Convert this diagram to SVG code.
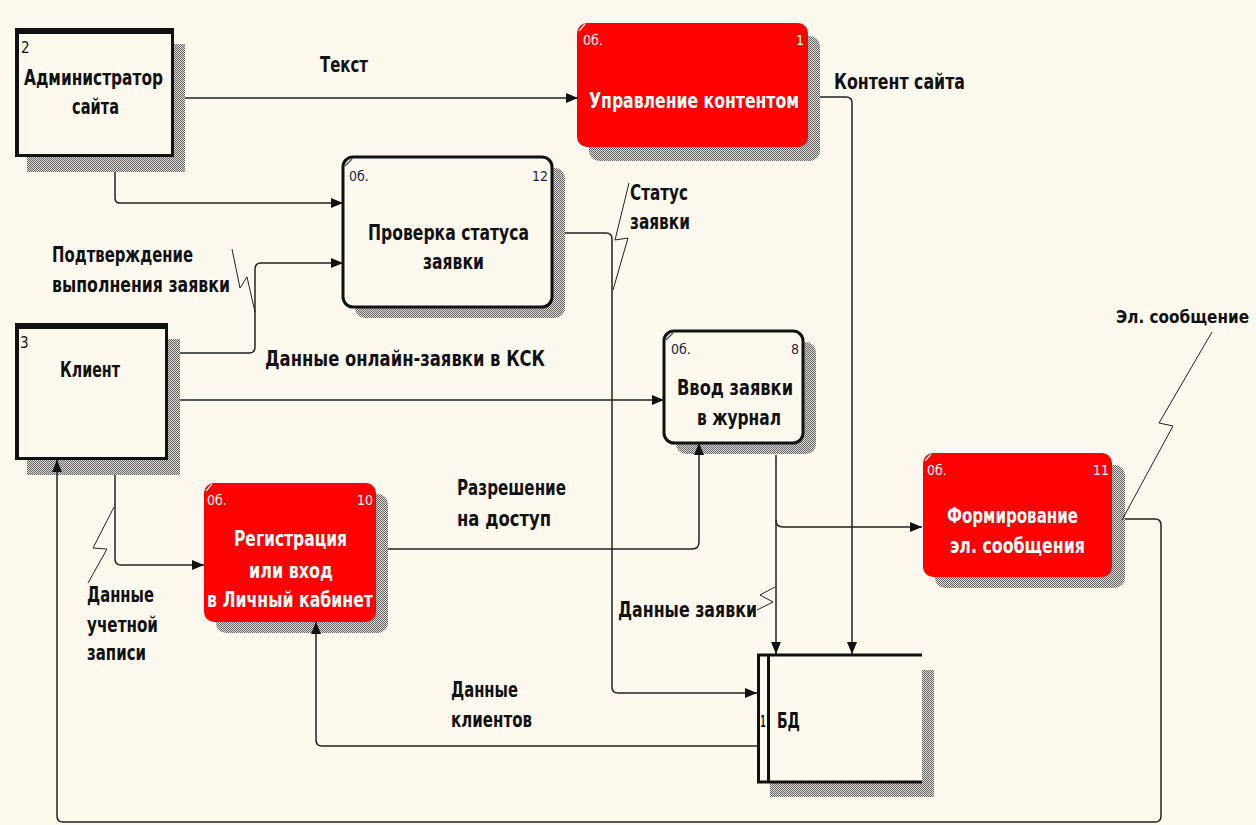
<svg xmlns="http://www.w3.org/2000/svg" width="1256" height="825" viewBox="0 0 1256 825">
<defs>
<pattern id="hatch" width="2" height="2" patternUnits="userSpaceOnUse">
<rect width="2" height="2" fill="#dcd9d2"/>
<rect width="1" height="1" fill="#666"/>
<rect x="1" y="1" width="1" height="1" fill="#666"/>
</pattern>
<marker id="arr" viewBox="0 0 12 10" refX="12" refY="5" markerWidth="12" markerHeight="10" markerUnits="userSpaceOnUse" orient="auto">
<path d="M0,0 L12,5 L0,10 z" fill="#111"/>
</marker>
<style>
.lbl{font-family:"DejaVu Sans Condensed","DejaVu Sans",sans-serif;font-size:21px;font-weight:bold;fill:#111}
.wt{fill:#fff}
.num{font-family:"DejaVu Sans Condensed","DejaVu Sans",sans-serif;font-size:14px;fill:#23234a}
.numw{font-family:"DejaVu Sans Condensed","DejaVu Sans",sans-serif;font-size:14px;fill:#fff}
.conn{fill:none;stroke:#222;stroke-width:1.5}
.lead{fill:none;stroke:#222;stroke-width:1}
.shadow{fill:url(#hatch)}
.wbox{fill:#fdf9ef;stroke:#111;stroke-width:3}
.rbox{fill:#ff0000}
.ent{fill:#fdf9ef;stroke:#111;stroke-width:3}
.mark{stroke:#fff;stroke-width:1.2}
.markd{stroke:#555;stroke-width:1.5}
</style>
</defs>
<rect width="1256" height="825" fill="#fdf9ef"/>

<g id="labels">
<text class="lbl" x="320" y="72" textLength="48" lengthAdjust="spacingAndGlyphs">Текст</text>
<text class="lbl" x="834" y="89" textLength="131" lengthAdjust="spacingAndGlyphs">Контент сайта</text>
<text class="lbl" x="630" y="200" textLength="58" lengthAdjust="spacingAndGlyphs">Статус</text>
<text class="lbl" x="630" y="229" textLength="60" lengthAdjust="spacingAndGlyphs">заявки</text>
<text class="lbl" x="52" y="262" textLength="141" lengthAdjust="spacingAndGlyphs">Подтверждение</text>
<text class="lbl" x="52" y="292" textLength="178" lengthAdjust="spacingAndGlyphs">выполнения заявки</text>
<text class="lbl" x="265" y="366" textLength="280" lengthAdjust="spacingAndGlyphs">Данные онлайн-заявки в КСК</text>
<text class="lbl" x="1116" y="323" textLength="133" lengthAdjust="spacingAndGlyphs" style="font-size:18px">Эл. сообщение</text>
<text class="lbl" x="457" y="495" textLength="109" lengthAdjust="spacingAndGlyphs">Разрешение</text>
<text class="lbl" x="457" y="526" textLength="94" lengthAdjust="spacingAndGlyphs">на доступ</text>
<text class="lbl" x="87" y="602" textLength="67" lengthAdjust="spacingAndGlyphs">Данные</text>
<text class="lbl" x="87" y="632" textLength="71" lengthAdjust="spacingAndGlyphs">учетной</text>
<text class="lbl" x="87" y="660" textLength="59" lengthAdjust="spacingAndGlyphs">записи</text>
<text class="lbl" x="618" y="617" textLength="139" lengthAdjust="spacingAndGlyphs">Данные заявки</text>
<text class="lbl" x="451" y="697" textLength="67" lengthAdjust="spacingAndGlyphs">Данные</text>
<text class="lbl" x="451" y="727" textLength="81" lengthAdjust="spacingAndGlyphs">клиентов</text>
</g>

<g id="entity-2">
<path class="shadow" d="M173,44 H185 V172 H27 V157 H173 Z"/>
<rect class="ent" x="16.5" y="29.5" width="156" height="126"/>
<rect x="15" y="28" width="158" height="6" fill="#111"/>
<rect x="15" y="28" width="4" height="129" fill="#111"/>
<text class="num" x="21" y="53" style="font-size:15px;fill:#111">2</text>
<text class="lbl" x="24" y="85" textLength="139" lengthAdjust="spacingAndGlyphs">Администратор</text>
<text class="lbl" x="72" y="114" textLength="47" lengthAdjust="spacingAndGlyphs">сайта</text>
</g>

<g id="entity-3">
<path class="shadow" d="M168,339 H180 V475 H27 V460 H168 Z"/>
<rect class="ent" x="16.5" y="324.5" width="150" height="134"/>
<rect x="15" y="323" width="153" height="6" fill="#111"/>
<rect x="15" y="323" width="4" height="137" fill="#111"/>
<text class="num" x="20" y="348" style="font-size:15px;fill:#111">3</text>
<text class="lbl" x="60" y="377" textLength="60" lengthAdjust="spacingAndGlyphs">Клиент</text>
</g>

<g id="process-1">
<rect class="shadow" x="589" y="36" width="231" height="125" rx="10"/>
<rect class="rbox" x="577" y="23" width="231" height="124" rx="10"/>
<line class="mark" x1="579" y1="31" x2="585" y2="24"/>
<text class="numw" x="583" y="45">0б.</text>
<text class="numw" x="796" y="45">1</text>
<text class="lbl wt" x="589" y="108" textLength="210" lengthAdjust="spacingAndGlyphs">Управление контентом</text>
</g>

<g id="process-12">
<rect class="shadow" x="355" y="168" width="210" height="150" rx="10"/>
<rect class="wbox" x="343" y="157" width="209" height="150" rx="10"/>
<line class="markd" x1="345" y1="166" x2="352" y2="159"/>
<text class="num" x="349" y="181">0б.</text>
<text class="num" x="532" y="181">12</text>
<text class="lbl" x="368" y="240" textLength="161" lengthAdjust="spacingAndGlyphs">Проверка статуса</text>
<text class="lbl" x="423" y="269" textLength="61" lengthAdjust="spacingAndGlyphs">заявки</text>
</g>

<g id="process-8">
<rect class="shadow" x="676" y="342" width="140" height="112" rx="10"/>
<rect class="wbox" x="664" y="331" width="139" height="112" rx="10"/>
<line class="markd" x1="666" y1="340" x2="673" y2="333"/>
<text class="num" x="671" y="354">0б.</text>
<text class="num" x="791" y="354">8</text>
<text class="lbl" x="677" y="395" textLength="116" lengthAdjust="spacingAndGlyphs">Ввод заявки</text>
<text class="lbl" x="697" y="425" textLength="84" lengthAdjust="spacingAndGlyphs">в журнал</text>
</g>

<g id="process-11">
<rect class="shadow" x="935" y="465" width="190" height="123" rx="10"/>
<rect class="rbox" x="923" y="453" width="189" height="124" rx="10"/>
<line class="mark" x1="925" y1="461" x2="931" y2="454"/>
<text class="numw" x="927" y="475">0б.</text>
<text class="numw" x="1093" y="475">11</text>
<text class="lbl wt" x="947" y="523" textLength="131" lengthAdjust="spacingAndGlyphs">Формирование</text>
<text class="lbl wt" x="950" y="553" textLength="135" lengthAdjust="spacingAndGlyphs">эл. сообщения</text>
</g>

<g id="process-10">
<rect class="shadow" x="216" y="494" width="172" height="139" rx="10"/>
<rect class="rbox" x="204" y="483" width="172" height="139" rx="10"/>
<line class="mark" x1="206" y1="491" x2="212" y2="484"/>
<text class="numw" x="207" y="505">0б.</text>
<text class="numw" x="357" y="505">10</text>
<text class="lbl wt" x="234" y="546" textLength="113" lengthAdjust="spacingAndGlyphs">Регистрация</text>
<text class="lbl wt" x="249" y="578" textLength="84" lengthAdjust="spacingAndGlyphs">или вход</text>
<text class="lbl wt" x="207" y="607" textLength="166" lengthAdjust="spacingAndGlyphs">в Личный кабинет</text>
</g>

<g id="store-1">
<path class="shadow" d="M922,670 H934 V797 H770 V782 H922 Z"/>
<rect x="757" y="655" width="165" height="127" fill="#fdf9ef"/>
<path d="M757,655 H922 M757,782 H922 M758.5,655 V782 M768.5,655 V782" fill="none" stroke="#111" stroke-width="3"/>
<text x="760.5" y="727" textLength="5" lengthAdjust="spacingAndGlyphs" style="font-family:'DejaVu Sans Condensed','DejaVu Sans',sans-serif;font-size:16px;font-weight:bold;fill:#111">1</text>
<text class="lbl" x="777" y="728" textLength="23" lengthAdjust="spacingAndGlyphs">БД</text>
</g>

<g id="connectors">
<path class="conn" d="M185,98 H578" marker-end="url(#arr)"/>
<path class="conn" d="M820,97 H846 Q852,97 852,103 V654" marker-end="url(#arr)"/>
<path class="conn" d="M115,172 V198 Q115,203 120,203 H343" marker-end="url(#arr)"/>
<path class="conn" d="M180,353 H249 Q255,353 255,347 V269 Q255,263 261,263 H343" marker-end="url(#arr)"/>
<path class="conn" d="M180,400 H664" marker-end="url(#arr)"/>
<path class="conn" d="M565,233 H606 Q612,233 612,239 V687 Q612,693 618,693 H757" marker-end="url(#arr)"/>
<path class="conn" d="M776,455 V654" marker-end="url(#arr)"/>
<path class="conn" d="M776,520 Q776,527 783,527 H922" marker-end="url(#arr)"/>
<path class="conn" d="M388,549 H692 Q699,549 699,542 V443" marker-end="url(#arr)"/>
<path class="conn" d="M115,475 V559 Q115,565 121,565 H204" marker-end="url(#arr)"/>
<path class="conn" d="M757,746 H322 Q316,746 316,740 V622" marker-end="url(#arr)"/>
<path class="conn" d="M1125,519 H1155 Q1161,519 1161,525 V816 Q1161,822 1155,822 H63 Q57,822 57,816 V460" marker-end="url(#arr)"/>
<polyline class="lead" points="629,183 615,240 628,238 613,290"/>
<polyline class="lead" points="232,249 240,288 247,277 255,312"/>
<polyline class="lead" points="757,610 773,602 760,595 775,587"/>
<polyline class="lead" points="114,507 93,548 107,549 88,583"/>
<polyline class="lead" points="1212,332 1159,423 1173,426 1122,520"/>
</g>
</svg>
